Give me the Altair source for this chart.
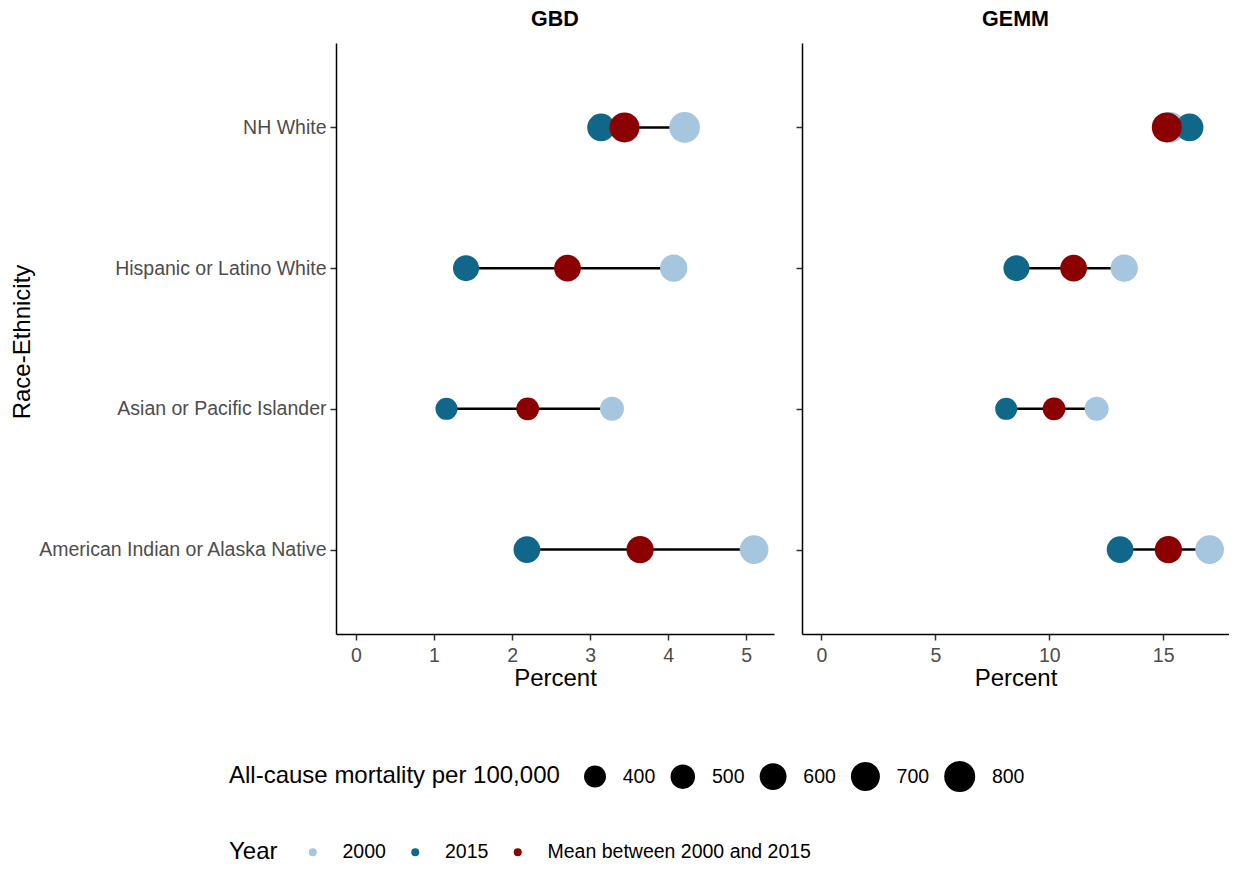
import altair as alt
import pandas as pd

races = ["NH White", "Hispanic or Latino White", "Asian or Pacific Islander",
         "American Indian or Alaska Native"]
years = ["2000", "2015", "Mean between 2000 and 2015"]
models = ["GBD", "GEMM"]

gbd_2000 = [4.21, 4.07, 3.28, 5.10]
gbd_2015 = [3.14, 1.41, 1.16, 2.19]
gbd_mean = [3.44, 2.71, 2.20, 3.64]
gemm_2000 = [15.30, 13.29, 12.08, 17.04]
gemm_2015 = [16.16, 8.56, 8.11, 13.11]
gemm_mean = [15.16, 11.07, 10.21, 15.23]
mort_2000 = [785, 620, 480, 686]
mort_2015 = [640, 563, 403, 594]
mort_mean = [750, 594, 430, 621]

size_values = [400, 500, 600, 700, 800]
colors = ["#A6C5DE", "#10678A", "#8B0000"]

pct = {"GBD": [gbd_2000, gbd_2015, gbd_mean], "GEMM": [gemm_2000, gemm_2015, gemm_mean]}
morts = [mort_2000, mort_2015, mort_mean]

long_rows, wide_rows = [], []
for m in models:
    for i, r in enumerate(races):
        for k, y in enumerate(years):
            long_rows.append({"model": m, "race": r, "year": y, "ord": k,
                              "pct": pct[m][k][i], "mort": morts[k][i]})
        wide_rows.append({"model": m, "race": r, "p2000": pct[m][0][i], "p2015": pct[m][1][i]})
long_df = pd.DataFrame(long_rows)
wide_df = pd.DataFrame(wide_rows)

FONT = "Liberation Sans"
H = 591
TITLE_FS = 24
LABEL_FS = 19.5

color_enc = alt.Color("year:N", scale=alt.Scale(domain=years, range=colors),
                      legend=alt.Legend(title="Year", orient="none", direction="horizontal",
                                        legendX=-107, legendY=799, titleOrient="left",
                                        titleFontSize=TITLE_FS, titleFontWeight="normal",
                                        titleColor="black", labelColor="black",
                                        labelFontSize=LABEL_FS, symbolSize=64, symbolOpacity=1,
                                        symbolType="circle", symbolStrokeWidth=0,
                                        labelOffset=20, columnPadding=19.5, titlePadding=25,
                                        titleLimit=600, labelLimit=600,
                                        titleFont=FONT, labelFont=FONT))
size_enc = alt.Size("mort:Q", scale=alt.Scale(domain=[0, 1000], range=[0, 1200], zero=True),
                    legend=alt.Legend(title="All-cause mortality per 100,000", orient="none",
                                      direction="horizontal", legendX=-107, legendY=718,
                                      values=size_values, titleOrient="left",
                                      titleFontSize=TITLE_FS, titleFontWeight="normal",
                                      titleColor="black", labelColor="black",
                                      labelFontSize=LABEL_FS, symbolFillColor="black",
                                      symbolStrokeColor="black", symbolOpacity=1,
                                      symbolStrokeWidth=0, symbolType="circle",
                                      labelOffset=16.7, columnPadding=14.3, titlePadding=24,
                                      titleLimit=600, labelLimit=600,
                                      titleFont=FONT, labelFont=FONT))


def panel(model, domain, tick_vals, width, first):
    yaxis = alt.Axis(title="Race-Ethnicity" if first else None, labels=first,
                     labelFontSize=LABEL_FS, labelColor="#4D4D4D", titleFontSize=TITLE_FS,
                     titleFontWeight="normal", titleColor="black", labelPadding=4,
                     titleX=-314, titleY=H / 2 + 3, titleAngle=270, titleAlign="center",
                     titleBaseline="middle", labelLimit=400)
    xaxis = alt.Axis(title="Percent", values=tick_vals, labelFontSize=LABEL_FS,
                     labelColor="#4D4D4D", titleFontSize=TITLE_FS, titleFontWeight="normal",
                     titleColor="black", labelPadding=6, titlePadding=2, format="d")
    xs = alt.Scale(domain=domain, nice=False, zero=False)
    ys = alt.Scale(domain=races, type="point", padding=0.6)
    seg = alt.Chart(wide_df).transform_filter(alt.datum.model == model).mark_rule(
        color="black", strokeWidth=2.5).encode(
        x=alt.X("p2015:Q", scale=xs, axis=xaxis),
        x2="p2000:Q",
        y=alt.Y("race:N", scale=ys, axis=yaxis, sort=races))
    dots = alt.Chart(long_df).transform_filter(alt.datum.model == model).mark_circle(
        opacity=1).encode(
        x=alt.X("pct:Q", scale=xs, axis=xaxis),
        y=alt.Y("race:N", scale=ys, axis=yaxis, sort=races),
        color=color_enc, size=size_enc, order=alt.Order("ord:Q"))
    return alt.layer(seg, dots).properties(
        width=width, height=H,
        title=alt.TitleParams(model, fontSize=21.5, fontWeight="bold", anchor="middle",
                              offset=13, font=FONT, color="black"))


left = panel("GBD", [-0.255, 5.355], [0, 1, 2, 3, 4, 5], 438, True)
right = panel("GEMM", [-0.852, 17.89], [0, 5, 10, 15], 427, False)

chart = alt.hconcat(left, right, spacing=21).resolve_scale(
    color="shared", size="shared").properties(
    padding={"left": 2, "top": 0, "right": 0, "bottom": 0}
).configure(font=FONT).configure_view(stroke=None).configure_axis(
    grid=False, domainColor="black", domainWidth=1.5, tickColor="#333333",
    tickWidth=1.5, tickSize=6, labelFont=FONT, titleFont=FONT)

chart.save("out.html", embed_options={"renderer": "svg", "actions": False})
